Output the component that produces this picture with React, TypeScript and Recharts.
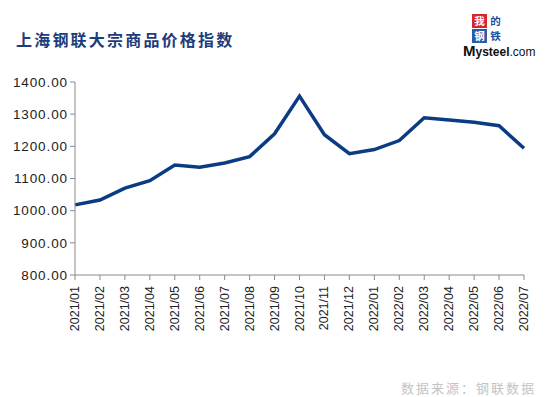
import React from "react";
import { LineChart, Line, XAxis, YAxis } from "recharts";

// 上海钢联大宗商品价格指数 monthly
const months = [
  "2021/01", "2021/02", "2021/03", "2021/04", "2021/05", "2021/06", "2021/07",
  "2021/08", "2021/09", "2021/10", "2021/11", "2021/12", "2022/01", "2022/02",
  "2022/03", "2022/04", "2022/05", "2022/06", "2022/07",
];
const indexValues = [
  1018, 1033, 1070, 1093, 1142, 1135, 1148, 1168, 1239, 1356, 1236, 1177,
  1190, 1218, 1289, 1282, 1275, 1264, 1194,
];
const yTicks = [800, 900, 1000, 1100, 1200, 1300, 1400];

const data = months.map((m, i) => ({ month: m, value: indexValues[i] }));

const AXIS = "#8a8a8a";
const LINE = "#0b3b82";
const FONT = "'Liberation Sans', Arial, sans-serif";

function MonthTick(props: any) {
  const { x, y, payload } = props;
  return (
    <g transform={`translate(${x + 4},${y + 4})`}>
      <text
        transform="rotate(-90)"
        textAnchor="end"
        fontSize={12.5}
        fontFamily={FONT}
        fill="#222"
        x={0}
        y={0}
      >
        {payload.value}
      </text>
    </g>
  );
}

const logoCells = [
  { ch: "我", bg: "#d8262e", fg: "#fff", l: 0, t: 0 },
  { ch: "的", bg: "#fff", fg: "#1d4fa0", l: 16, t: 0 },
  { ch: "钢", bg: "#2a5ca8", fg: "#fff", l: 0, t: 15 },
  { ch: "铁", bg: "#fff", fg: "#1d4fa0", l: 16, t: 15 },
];

function Logo() {
  return (
    <div style={{ position: "absolute", left: 463, top: 14, width: 72, height: 46 }}>
      {logoCells.map((c) => (
        <div
          key={c.ch}
          style={{
            position: "absolute",
            left: 9 + c.l,
            top: c.t,
            width: 15,
            height: 14,
            background: c.bg,
            color: c.fg,
            fontSize: 10.5,
            lineHeight: "14px",
            textAlign: "center",
            fontWeight: 700,
            fontFamily: "'Noto Sans CJK SC', sans-serif",
          }}
        >
          {c.ch}
        </div>
      ))}
      <div
        style={{
          position: "absolute",
          left: 0,
          top: 29,
          fontFamily: FONT,
          fontSize: 12,
          color: "#111",
          lineHeight: "15px",
          whiteSpace: "nowrap",
        }}
      >
        <span style={{ fontSize: 15, fontWeight: 700 }}>M</span>
        <span style={{ fontWeight: 700 }}>ysteel</span>
        <span>.com</span>
      </div>
    </div>
  );
}

export default function App() {
  return (
    <div style={{ position: "fixed", left: 0, top: 0, width: 548, height: 397, background: "#fff", overflow: "hidden" }}>
      <div
        style={{
          position: "absolute",
          left: 16,
          top: 27,
          fontFamily: "'Noto Sans CJK SC', sans-serif",
          fontWeight: 700,
          fontSize: 16,
          letterSpacing: 2.2,
          color: "#1c3c7c",
        }}
      >
        上海钢联大宗商品价格指数
      </div>
      <Logo />
      <div style={{ position: "absolute", left: 0, top: 0 }}>
        <LineChart width={548} height={397} data={data} margin={{ top: 82, right: 24, bottom: 62, left: 10 }}>
          <XAxis
            dataKey="month"
            interval={0}
            height={60}
            padding={{ left: 0, right: 0 }}
            stroke={AXIS}
            tickSize={5}
            tick={<MonthTick />}
          />
          <YAxis
            domain={[800, 1400]}
            ticks={yTicks}
            width={65}
            stroke={AXIS}
            tickSize={5}
            tickFormatter={(v: number) => v.toFixed(2)}
            tick={{ fontSize: 13.5, fill: "#222", fontFamily: FONT, letterSpacing: 0.9 }}
            allowDataOverflow
          />
          <Line
            type="linear"
            dataKey="value"
            stroke={LINE}
            strokeWidth={3.5}
            dot={false}
            isAnimationActive={false}
          />
        </LineChart>
      </div>
      <div
        style={{
          position: "absolute",
          left: 401,
          top: 378,
          fontFamily: "'Noto Sans CJK SC', sans-serif",
          fontSize: 13,
          letterSpacing: 2,
          color: "#c4c4c4",
        }}
      >
        数据来源：钢联数据
      </div>
    </div>
  );
}
